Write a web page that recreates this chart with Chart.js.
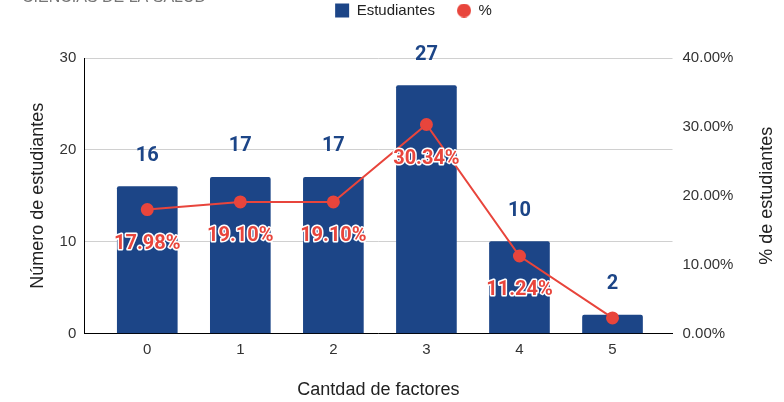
<!DOCTYPE html>
<html>
<head>
<meta charset="utf-8">
<script src="https://cdn.jsdelivr.net/npm/chart.js@4.4.1/dist/chart.umd.min.js"></script>
<style>
  html, body { margin: 0; padding: 0; background: #fff; }
  canvas { display: block; }
</style>
</head>
<body>
<canvas id="chart" width="784" height="402"></canvas>
<script>
// values
const categories = ['0', '1', '2', '3', '4', '5'];
const students = [16, 17, 17, 27, 10, 2];
const percents = [17.98, 19.10, 19.10, 30.34, 11.24, 2.25];
const leftTicks = [0, 10, 20, 30];
const rightTicks = [0, 10, 20, 30, 40];

const BLUE = '#1c4587';
const RED = '#e8453c';
const FONT = "'Liberation Sans', Arial, sans-serif";

// small red dot for the legend entry of the line
const legendDot = document.createElement('canvas');
legendDot.width = 14;
legendDot.height = 14;
(function () {
    const c = legendDot.getContext('2d');
    c.fillStyle = RED;
    c.beginPath();
    c.arc(7, 7, 7, 0, Math.PI * 2);
    c.fill();
})();

// labels above bars and under the line points
const labelPlugin = {
    id: 'labels',
    afterDatasetsDraw(chart) {
        const ctx = chart.ctx;
        const area = chart.chartArea;
        ctx.save();
        ctx.textAlign = 'center';
        ctx.textBaseline = 'middle';
        ctx.font = "bold 20px Roboto, sans-serif";

        const barMeta = chart.getDatasetMeta(0);
        barMeta.data.forEach((el, i) => {
            ctx.fillStyle = BLUE;
            ctx.fillText(String(students[i]), el.x, el.y - 31);
        });

        const lineMeta = chart.getDatasetMeta(1);
        lineMeta.data.forEach((el, i) => {
            const y = el.y + 34;
            if (y > area.bottom) return;
            const txt = percents[i].toFixed(2) + '%';
            ctx.lineWidth = 3;
            ctx.lineJoin = 'round';
            ctx.strokeStyle = '#fff';
            ctx.strokeText(txt, el.x, y);
            ctx.fillStyle = RED;
            ctx.fillText(txt, el.x, y);
        });
        ctx.restore();
    }
};

// cut off heading at the very top, and the right axis title read bottom-up
const textPlugin = {
    id: 'texts',
    afterDraw(chart) {
        const ctx = chart.ctx;
        ctx.save();
        ctx.font = "16px " + FONT;
        ctx.fillStyle = '#757575';
        ctx.textBaseline = 'alphabetic';
        ctx.textAlign = 'left';
        ctx.fillText('CIENCIAS DE LA SALUD', 22, 2);

        const s = chart.scales.y1;
        const area = chart.chartArea;
        ctx.translate(s.right - 12.8, (area.top + area.bottom) / 2);
        ctx.rotate(-Math.PI / 2);
        ctx.font = "18px " + FONT;
        ctx.fillStyle = '#222';
        ctx.textAlign = 'center';
        ctx.textBaseline = 'middle';
        ctx.fillText('% de estudiantes', 0, 0);
        ctx.restore();
    }
};

// legend: extra space under it, and nudge it a bit to the right
const legendSpace = {
    id: 'legendSpace',
    beforeInit(chart) {
        const fit = chart.legend.fit;
        chart.legend.fit = function () {
            fit.call(this);
            this.height += 30;
        };
    },
    afterLayout(chart) {
        chart.legend.left += 10;
        chart.legend.right += 10;
    }
};

new Chart(document.getElementById('chart'), {
    data: {
        datasets: [
            {
                type: 'bar',
                label: 'Estudiantes',
                data: students.map((v, i) => ({ x: i, y: v })),
                backgroundColor: BLUE,
                borderRadius: 2,
                barThickness: 60,
                pointStyle: 'rect',
                yAxisID: 'y',
                order: 1
            },
            {
                type: 'line',
                label: '%',
                data: percents.map((v, i) => ({ x: i, y: v })),
                borderColor: RED,
                backgroundColor: RED,
                borderWidth: 2,
                pointRadius: 5.5,
                pointStyle: 'circle',
                tension: 0,
                yAxisID: 'y1',
                order: 0
            }
        ]
    },
    options: {
        responsive: false,
        animation: false,
        layout: { padding: { left: 27, right: 4, top: -19, bottom: 1 } },
        plugins: {
            tooltip: { enabled: false },
            legend: {
                position: 'top',
                labels: {
                    usePointStyle: true,
                    boxWidth: 14,
                    boxHeight: 14,
                    padding: 22,
                    color: '#222',
                    font: { family: FONT, size: 15 },
                    sort: (a, b) => a.datasetIndex - b.datasetIndex,
                    generateLabels: (chart) => {
                        const items = Chart.defaults.plugins.legend.labels.generateLabels(chart);
                        items.forEach(it => {
                            if (it.datasetIndex === 1) it.pointStyle = legendDot;
                        });
                        return items;
                    }
                }
            }
        },
        scales: {
            x: {
                type: 'linear',
                offset: false,
                min: -0.677,
                max: 5.645,
                grid: { display: false, offset: false, drawTicks: false },
                border: { display: true, color: '#000', width: 1 },
                ticks: {
                    stepSize: 1,
                    includeBounds: false,
                    padding: 7,
                    color: '#333',
                    font: { family: FONT, size: 15 },
                    callback: (v) => categories[v] !== undefined ? categories[v] : ''
                },
                title: {
                    display: true,
                    text: 'Cantdad de factores',
                    color: '#222',
                    font: { family: FONT, size: 18 },
                    padding: { top: 14, bottom: 0 }
                }
            },
            y: {
                position: 'left',
                min: 0,
                max: 30,
                afterBuildTicks: (s) => { s.ticks = leftTicks.map(v => ({ value: v })); },
                grid: { color: '#d0d0d0', drawTicks: false },
                border: { display: true, color: '#000', width: 1 },
                ticks: {
                    padding: 8,
                    color: '#333',
                    font: { family: FONT, size: 15 }
                },
                title: {
                    display: true,
                    text: 'Número de estudiantes',
                    color: '#222',
                    font: { family: FONT, size: 18 },
                    padding: { top: 0, bottom: 3 }
                }
            },
            y1: {
                position: 'right',
                min: 0,
                max: 40,
                afterBuildTicks: (s) => { s.ticks = rightTicks.map(v => ({ value: v })); },
                afterFit: (s) => { s.width += 36.6; },
                grid: { display: false, drawOnChartArea: false, drawTicks: false },
                border: { display: false },
                ticks: {
                    padding: 10,
                    color: '#333',
                    font: { family: FONT, size: 15 },
                    callback: (v) => v.toFixed(2) + '%'
                },
                title: { display: false }
            }
        }
    },
    plugins: [labelPlugin, textPlugin, legendSpace]
});
</script>
</body>
</html>
